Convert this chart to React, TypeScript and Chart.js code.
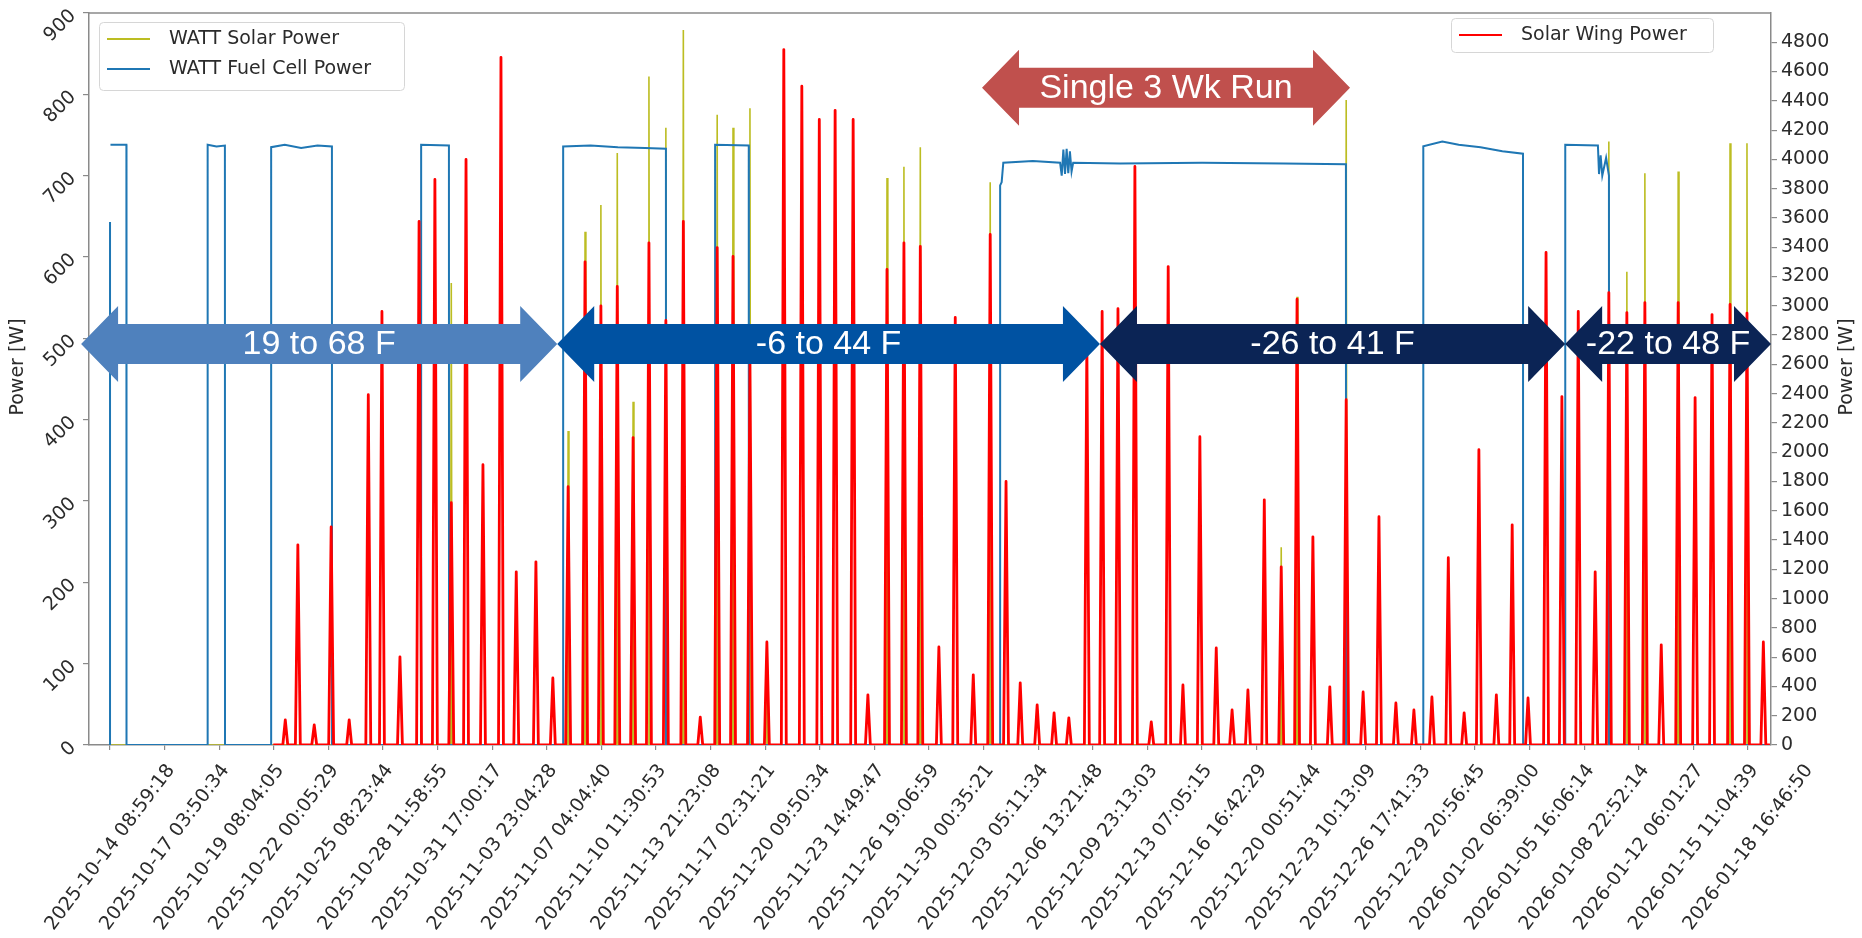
import React, { useEffect, useRef } from 'react';
import { Chart, registerables } from 'chart.js';

Chart.register(...registerables);

// ---------- data ----------
const tickLabels = [
  '2025-10-14 08:59:18', '2025-10-17 03:50:34', '2025-10-19 08:04:05', '2025-10-22 00:05:29',
  '2025-10-25 08:23:44', '2025-10-28 11:58:55', '2025-10-31 17:00:17', '2025-11-03 23:04:28',
  '2025-11-07 04:04:40', '2025-11-10 11:30:53', '2025-11-13 21:23:08', '2025-11-17 02:31:21',
  '2025-11-20 09:50:34', '2025-11-23 14:49:47', '2025-11-26 19:06:59', '2025-11-30 00:35:21',
  '2025-12-03 05:11:34', '2025-12-06 13:21:48', '2025-12-09 23:13:03', '2025-12-13 07:05:15',
  '2025-12-16 16:42:29', '2025-12-20 00:51:44', '2025-12-23 10:13:09', '2025-12-26 17:41:33',
  '2025-12-29 20:56:45', '2026-01-02 06:39:00', '2026-01-05 16:06:14', '2026-01-08 22:52:14',
  '2026-01-12 06:01:27', '2026-01-15 11:04:39', '2026-01-18 16:46:50',
];

// Solar Wing Power (right axis): daily peak position (in tick-index units) and peak watts
const wingT = [
  3.21, 3.44, 3.74, 4.05, 4.38, 4.73, 4.98, 5.31, 5.66, 5.95, 6.25, 6.52, 6.83, 7.16, 7.44,
  7.80, 8.11, 8.39, 8.70, 8.99, 9.29, 9.58, 9.87, 10.18, 10.50, 10.81, 11.12, 11.41, 11.72, 12.03,
  12.34, 12.67, 12.99, 13.28, 13.61, 13.88, 14.23, 14.54, 14.84, 15.18, 15.48, 15.81, 16.12, 16.41, 16.67,
  16.98, 17.29, 17.56, 17.89, 18.17, 18.46, 18.77, 19.07, 19.38, 19.65, 19.96, 20.26, 20.55, 20.84, 21.14,
  21.45, 21.74, 22.03, 22.34, 22.64, 22.95, 23.24, 23.55, 23.88, 24.21, 24.51, 24.80, 25.07, 25.39, 25.68,
  25.97, 26.30, 26.59, 26.89, 27.20, 27.45, 27.78, 28.11, 28.41, 28.72, 29.03, 29.34, 29.67, 29.98, 30.28,
];
const wingPeak = [
  171, 1367, 137, 1490, 171, 2393, 2961, 602, 3576, 3863, 1655, 4000, 1915, 4697, 1183,
  1251, 458, 1764, 3300, 3000, 3132, 2100, 3430, 2900, 3576, 191, 3398, 3337, 2600, 704,
  4750, 4500, 4273, 4335, 4273, 342, 3248, 3430, 3405, 670, 2920, 479, 3487, 1800, 424,
  274, 219, 185, 2750, 2961, 2980, 3952, 157, 3268, 410, 2106, 663, 239, 376, 1675,
  1217, 3045, 1422, 397, 2359, 362, 1559, 287, 239, 328, 1279, 219, 2017, 342, 1504,
  321, 3364, 2380, 2961, 1183, 3090, 2954, 3022, 684, 3022, 2373, 2940, 3009, 2950, 704,
];

// WATT Solar Power (left axis): visible peaks
const solarT = [
  6.25, 8.39, 8.70, 8.99, 9.29, 9.58, 9.87, 10.18, 10.50, 11.12, 11.41, 11.72, 12.03,
  14.23, 14.54, 14.84, 16.12, 21.45, 21.74, 22.64, 27.45, 27.78, 28.11, 28.72, 29.67, 29.98,
];
const solarPeak = [
  568, 386, 631, 664, 728, 422, 822, 759, 879, 775, 759, 783, 128,
  697, 711, 735, 692, 243, 551, 793, 742, 582, 703, 705, 740, 740,
];

// WATT Fuel Cell Power (left axis)
const fuelT = [
  0, 0, 0.004, 0.008, 0.30, 0.302,
  1.786, 1.788, 1.95, 2.104, 2.106,
  2.949, 2.951, 3.2, 3.5, 3.8, 4.064, 4.066,
  5.696, 5.698, 6.207, 6.209,
  8.297, 8.299, 8.8, 9.3, 9.8, 10.181, 10.183,
  11.08, 11.082, 11.698, 11.70,
  16.30, 16.302, 16.33, 16.36, 16.9, 17.40, 17.43, 17.46, 17.49, 17.52, 17.55, 17.58, 17.61, 17.64, 18.5, 20.0, 21.5, 22.635, 22.637,
  24.05, 24.052, 24.4, 24.7, 25.1, 25.5, 25.878, 25.88,
  26.65, 26.652, 27.25, 27.27, 27.30, 27.33, 27.40, 27.452, 27.454,
  30.40,
];
const fuelW: (number | null)[] = [
  0, 643, null, 738, 738, 0,
  0, 738, 736, 737, 0,
  0, 735, 738, 734, 737, 736, 0,
  0, 738, 737, 0,
  0, 736, 737, 735, 734, 733, 0,
  0, 738, 737, 0,
  0, 688, 692, 716, 718, 716, 700, 732, 702, 733, 703, 730, 705, 716, 715, 716, 715, 714, 0,
  0, 736, 742, 738, 735, 730, 727, 0,
  0, 738, 737, 702, 725, 700, 722, 700, 0,
  0,
];

// Temperature / run annotations (x in tick-index units, level in left-axis watts)
const arrowText = ['19 to 68 F', '-6 to 44 F', '-26 to 41 F', '-22 to 48 F', 'Single 3 Wk Run'];
const arrowFrom = [-0.53, 8.19, 18.13, 26.65, 15.97];
const arrowTo = [8.19, 18.13, 26.65, 30.42, 22.71];
const arrowLevel = [493, 493, 493, 493, 808];
const arrowColor = ['#4F81BD', '#0052A2', '#0B2455', '#0B2455', '#C0504D'];

const X_MIN = -0.385;
const X_MAX = 30.42;
const DATA_END = 30.40;
const WING_START = 2.99;

// ---------- style ----------
const W = 1862;
const H = 938;
const FONT = "'DejaVu Sans', sans-serif";
const TEXT = '#2b2b2b';
const SPINE = '#8a8a8a';
const C_SOLAR = '#bcbd22';
const C_FUEL = '#1f77b4';
const C_WING = '#ff0000';

function spikeSeries(ts: number[], peaks: number[], half: number, start: number, end: number) {
  const pts: { x: number; y: number }[] = [{ x: start, y: 0 }];
  ts.forEach((t, i) => {
    pts.push({ x: t - half, y: 0 }, { x: t, y: peaks[i] }, { x: t + half, y: 0 });
  });
  pts.push({ x: end, y: 0 });
  return pts;
}

function drawArrow(ctx: CanvasRenderingContext2D, x1: number, x2: number, yc: number,
  bodyH: number, headH: number, headL: number, color: string) {
  ctx.beginPath();
  ctx.moveTo(x1, yc);
  ctx.lineTo(x1 + headL, yc - headH / 2);
  ctx.lineTo(x1 + headL, yc - bodyH / 2);
  ctx.lineTo(x2 - headL, yc - bodyH / 2);
  ctx.lineTo(x2 - headL, yc - headH / 2);
  ctx.lineTo(x2, yc);
  ctx.lineTo(x2 - headL, yc + headH / 2);
  ctx.lineTo(x2 - headL, yc + bodyH / 2);
  ctx.lineTo(x1 + headL, yc + bodyH / 2);
  ctx.lineTo(x1 + headL, yc + headH / 2);
  ctx.closePath();
  ctx.fillStyle = color;
  ctx.fill();
}

function drawLegendBox(ctx: CanvasRenderingContext2D, x: number, y: number, w: number, h: number,
  items: { label: string; color: string }[], rowH: number) {
  ctx.save();
  ctx.fillStyle = 'rgba(255,255,255,0.85)';
  ctx.strokeStyle = '#d6d6d6';
  ctx.lineWidth = 1;
  ctx.beginPath();
  (ctx as any).roundRect(x + 0.5, y + 0.5, w, h, 4);
  ctx.fill();
  ctx.stroke();
  ctx.font = `19px ${FONT}`;
  ctx.textBaseline = 'middle';
  ctx.textAlign = 'left';
  items.forEach((it, i) => {
    const cy = y + 17 + i * rowH;
    ctx.strokeStyle = it.color;
    ctx.lineWidth = 2;
    ctx.beginPath();
    ctx.moveTo(x + 8, cy);
    ctx.lineTo(x + 51, cy);
    ctx.stroke();
    ctx.fillStyle = TEXT;
    ctx.fillText(it.label, x + 70, cy);
  });
  ctx.restore();
}

const overlayPlugin = {
  id: 'overlay',
  afterDatasetsDraw(chart: any) {
    const { ctx, chartArea, scales } = chart;
    const xs = scales.x;
    const ys = scales.y;
    ctx.save();
    // top spine
    ctx.strokeStyle = SPINE;
    ctx.lineWidth = 1.5;
    ctx.beginPath();
    ctx.moveTo(chartArea.left, chartArea.top);
    ctx.lineTo(chartArea.right, chartArea.top);
    ctx.stroke();

    // arrows
    arrowText.forEach((txt, i) => {
      const x1 = xs.getPixelForValue(arrowFrom[i]);
      const x2 = xs.getPixelForValue(arrowTo[i]);
      const yc = ys.getPixelForValue(arrowLevel[i]);
      drawArrow(ctx, x1, x2, yc, 40, 76, 37, arrowColor[i]);
      ctx.fillStyle = '#ffffff';
      ctx.font = `34px 'Liberation Sans', Arial, sans-serif`;
      ctx.textAlign = 'center';
      ctx.textBaseline = 'middle';
      ctx.fillText(txt, (x1 + x2) / 2, yc + 1);
    });

    // legends
    const ds = chart.data.datasets;
    drawLegendBox(ctx, chartArea.left + 10, chartArea.top + 9, 305, 68, [
      { label: ds[2].label, color: ds[2].borderColor },
      { label: ds[1].label, color: ds[1].borderColor },
    ], 30);
    drawLegendBox(ctx, chartArea.right - 320, chartArea.top + 5, 262, 34, [
      { label: ds[0].label, color: ds[0].borderColor },
    ], 30);

    // axis titles (both read bottom-to-top)
    const midY = (chartArea.top + chartArea.bottom) / 2 - 12;
    ctx.fillStyle = TEXT;
    ctx.font = `19px ${FONT}`;
    ctx.textAlign = 'center';
    ctx.textBaseline = 'middle';
    ctx.translate(18, midY);
    ctx.rotate(-Math.PI / 2);
    ctx.fillText('Power [W]', 0, 0);
    ctx.setTransform(1, 0, 0, 1, 0, 0);
    ctx.translate(W - 15, midY);
    ctx.rotate(-Math.PI / 2);
    ctx.fillText('Power [W]', 0, 0);
    ctx.restore();
  },
};

export default function App() {
  const ref = useRef<HTMLCanvasElement | null>(null);

  useEffect(() => {
    document.body.style.margin = '0';
    const canvas = ref.current;
    if (!canvas) return;

    const wing = spikeSeries(wingT, wingPeak, 0.045, WING_START, DATA_END);
    const solar = spikeSeries(solarT, solarPeak, 0.015, 0, DATA_END);
    const fuel = fuelT.map((t, i) => ({ x: t, y: fuelW[i] }));

    const chart = new Chart(canvas, {
      type: 'line',
      data: {
        datasets: [
          {
            label: 'Solar Wing Power', data: wing as any, yAxisID: 'y2',
            borderColor: C_WING, backgroundColor: C_WING, borderWidth: 2.8,
            pointRadius: 0, tension: 0, borderJoinStyle: 'round',
          },
          {
            label: 'WATT Fuel Cell Power', data: fuel as any, yAxisID: 'y',
            borderColor: C_FUEL, backgroundColor: C_FUEL, borderWidth: 2,
            pointRadius: 0, tension: 0, spanGaps: false,
          },
          {
            label: 'WATT Solar Power', data: solar as any, yAxisID: 'y',
            borderColor: C_SOLAR, backgroundColor: C_SOLAR, borderWidth: 1.6,
            pointRadius: 0, tension: 0,
          },
        ],
      },
      options: {
        animation: false,
        responsive: false,
        events: [],
        layout: { padding: { top: 13, left: 0, right: 0, bottom: 0 } },
        plugins: { legend: { display: false }, tooltip: { enabled: false }, title: { display: false } },
        scales: {
          x: {
            type: 'linear',
            min: X_MIN,
            max: X_MAX,
            afterBuildTicks: (s: any) => { s.ticks = tickLabels.map((_, i) => ({ value: i })); },
            afterFit: (s: any) => { s.height = H - 745; s.paddingLeft = 0; s.paddingRight = 0; },
            ticks: {
              autoSkip: false,
              minRotation: 53,
              maxRotation: 53,
              labelOffset: 61,
              padding: 10,
              color: TEXT,
              font: { size: 19, family: FONT },
              callback: (v: any) => tickLabels[Math.round(Number(v))] ?? '',
            },
            grid: { drawOnChartArea: false, drawTicks: true, tickLength: 5, color: SPINE, lineWidth: 1.2 },
            border: { display: true, color: SPINE, width: 1.5 },
          },
          y: {
            position: 'left',
            min: 0,
            max: 900,
            afterFit: (s: any) => { s.width = 89; s.paddingTop = 0; s.paddingBottom = 0; },
            ticks: {
              stepSize: 100,
              minRotation: 45,
              maxRotation: 45,
              padding: 10,
              color: TEXT,
              font: { size: 19, family: FONT },
              callback: (v: any) => String(v),
            },
            grid: { drawOnChartArea: false, drawTicks: true, tickLength: 6, color: SPINE, lineWidth: 1.2 },
            border: { display: true, color: SPINE, width: 1.5 },
          },
          y2: {
            position: 'right',
            min: 0,
            max: 5000,
            afterBuildTicks: (s: any) => { s.ticks = s.ticks.filter((t: any) => t.value <= 4800); },
            afterFit: (s: any) => { s.width = W - 1771; s.paddingTop = 0; s.paddingBottom = 0; },
            ticks: {
              stepSize: 200,
              padding: 4,
              color: TEXT,
              font: { size: 19, family: FONT },
              callback: (v: any) => String(v),
            },
            grid: { drawOnChartArea: false, drawTicks: true, tickLength: 6, color: SPINE, lineWidth: 1.2 },
            border: { display: true, color: SPINE, width: 1.5 },
          },
        },
      },
      plugins: [overlayPlugin],
    });

    return () => chart.destroy();
  }, []);

  return (
    <div style={{ width: W, height: H, background: '#fff' }}>
      <canvas ref={ref} width={W} height={H} style={{ display: 'block', width: W, height: H }} />
    </div>
  );
}
